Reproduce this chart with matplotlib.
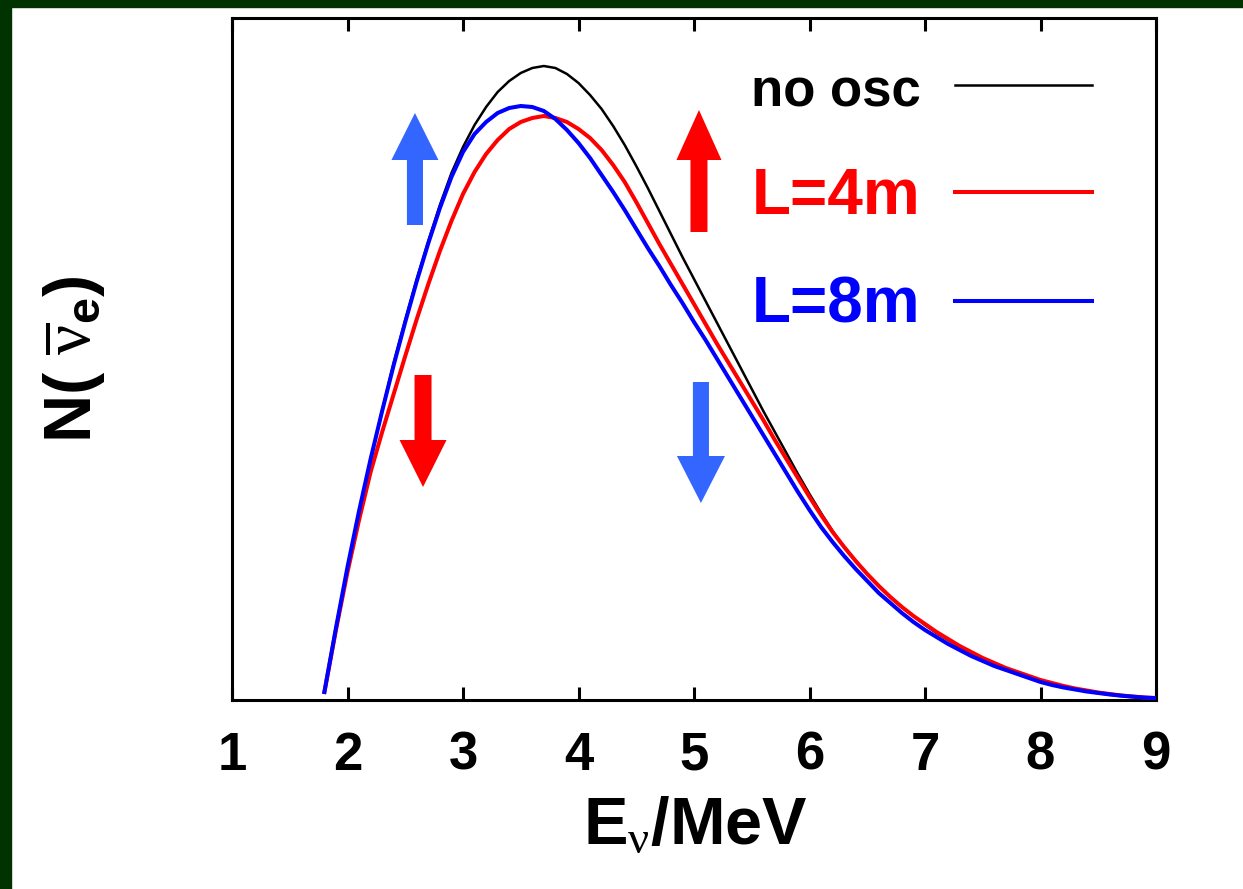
import matplotlib
matplotlib.use('Agg')
import matplotlib.pyplot as plt
from matplotlib.patches import Rectangle

# neutrino energy (MeV) and spectra (arbitrary units)
energy = [1.8, 1.9, 2.0, 2.1, 2.2, 2.3, 2.4, 2.5, 2.6, 2.7,
          2.8, 2.9, 3.0, 3.1, 3.2, 3.3, 3.4, 3.5, 3.6, 3.7,
          3.8, 3.9, 4.0, 4.1, 4.2, 4.3, 4.4, 4.5, 4.6, 4.7,
          4.8, 4.9, 5.0, 5.1, 5.2, 5.3, 5.4, 5.5, 5.6, 5.7,
          5.8, 5.9, 6.0, 6.1, 6.2, 6.3, 6.4, 6.5, 6.6, 6.7,
          6.8, 6.9, 7.0, 7.1, 7.2, 7.3, 7.4, 7.5, 7.6, 7.7,
          7.8, 7.9, 8.0, 8.1, 8.2, 8.3, 8.4, 8.5, 8.6, 8.7,
          8.8, 8.9, 9.0]

no_osc = [8, 70, 130, 187, 240, 290, 337, 380, 421, 459,
          495, 527, 553, 575, 593, 608, 619, 627, 632, 634,
          632, 626, 617, 605, 591, 574, 555, 534, 512, 489,
          466, 443, 421, 399, 377, 355, 333, 311, 289, 268,
          247, 226, 206, 187, 169, 153, 139, 126, 114, 103,
          93, 84, 75, 67, 60, 53, 47, 41, 36, 31,
          27, 23, 19, 16, 13, 11, 9, 7, 5.5, 4.5,
          3.5, 2.5, 2]

l4m = [8, 70, 128, 180, 228, 268, 306, 344, 381, 416,
       449, 479, 506, 528, 546, 560, 571, 578, 582, 584,
       582, 578, 571, 562, 550, 535, 518, 498, 477, 456,
       436, 416, 396, 376, 356, 337, 318, 299, 280, 260,
       241, 222, 203, 185, 168, 153, 139, 126, 114, 103,
       93, 84, 76, 68, 61, 54, 48, 42, 37, 32,
       28, 24, 20, 17, 14, 11.5, 9.5, 7.5, 6, 4.5,
       3.5, 2.5, 2]

l8m = [8, 72, 133, 189, 241, 289, 335, 378, 419, 457,
       492, 523, 548, 566, 578, 587, 592, 594, 593, 589,
       581, 570, 557, 542, 525, 508, 490, 471, 452, 434,
       415, 397, 378, 360, 341, 322, 303, 284, 265, 246,
       227, 208, 190, 173, 158, 144, 131, 119, 107, 97,
       87, 78, 70, 63, 56, 50, 44, 39, 34, 30,
       26, 22, 18, 15, 12.5, 10.5, 8.5, 7, 5.5, 4.3,
       3.3, 2.4, 1.8]

x_ticks = [1, 2, 3, 4, 5, 6, 7, 8, 9]

plt.rcParams['font.family'] = ['Liberation Sans', 'DejaVu Sans']
plt.rcParams['mathtext.fontset'] = 'custom'
plt.rcParams['mathtext.rm'] = 'Liberation Serif'
plt.rcParams['mathtext.it'] = 'Liberation Serif:italic'
plt.rcParams['mathtext.bf'] = 'Liberation Sans:bold'

fig = plt.figure(figsize=(12.43, 8.89), dpi=100)
fig.patch.set_facecolor('white')
# dark green frame on top and left
fig.patches.append(Rectangle((0, 1 - 7 / 889), 1, 7 / 889, transform=fig.transFigure,
                             color='#003300', zorder=0))
fig.patches.append(Rectangle((0, 0), 11 / 1243, 1, transform=fig.transFigure,
                             color='#003300', zorder=0))

ax = fig.add_axes([232 / 1243, 1 - 700 / 889, 924 / 1243, 682 / 889])

ax.plot(energy, no_osc, color='black', lw=1.8, label='no osc', zorder=3)
ax.plot(energy, l4m, color='#ff0000', lw=2.9, label='L=4m', zorder=4)
ax.plot(energy, l8m, color='#0000ff', lw=2.9, label='L=8m', zorder=5)

ax.set_xlim(1, 9)
ax.set_ylim(0, 682)
ax.set_xticks(x_ticks)
ax.set_yticks([])
ax.tick_params(axis='x', direction='in', top=True, length=9.5, width=2.2,
               labelsize=38, pad=22)
for lab in ax.get_xticklabels():
    lab.set_fontweight('bold')
for s in ax.spines.values():
    s.set_linewidth(2.2)

# arrows
arrow_kw = dict(length_includes_head=True, lw=0, zorder=6)
ax.arrow(2.584, 475, 0, 112, width=0.139, head_width=0.407, head_length=47,
         color='#3366ff', **arrow_kw)
ax.arrow(2.654, 325, 0, -112, width=0.147, head_width=0.407, head_length=47,
         color='#ff0000', **arrow_kw)
ax.arrow(5.043, 468, 0, 122, width=0.147, head_width=0.39, head_length=50,
         color='#ff0000', **arrow_kw)
ax.arrow(5.06, 318, 0, -121, width=0.139, head_width=0.416, head_length=47,
         color='#3366ff', **arrow_kw)

leg = ax.legend(loc='upper right', bbox_to_anchor=(0.931, 0.934), frameon=False,
                markerfirst=False, handlelength=2.2, handletextpad=0.55,
                labelspacing=0.785, borderpad=0, borderaxespad=0,
                prop={'family': 'Liberation Sans', 'weight': 'bold', 'size': 45},
                labelcolor=['black', '#ff0000', '#0000ff'])
leg.get_texts()[0].set_fontsize(38)
leg.get_texts()[1].set_fontsize(46)
leg.get_texts()[2].set_fontsize(46)

ax.set_xlabel(r'E$_{\mathrm{\nu}}$/MeV', fontsize=48, fontweight='bold')
ax.xaxis.set_label_coords(0.501, -0.14)
ax.set_ylabel(r'N( $\overline{\mathrm{\nu}}_{\mathbf{e}}$)', fontsize=48, fontweight='bold')
ax.yaxis.set_label_coords(-0.135, 0.5)

fig.savefig('out.png', dpi=100)
